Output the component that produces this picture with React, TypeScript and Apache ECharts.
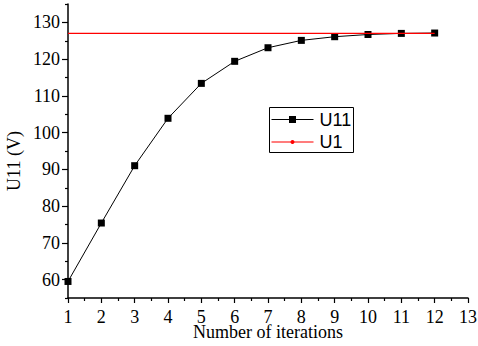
import React, { useEffect, useRef } from "react";
import * as echarts from "echarts";

const iterations = [1, 2, 3, 4, 5, 6, 7, 8, 9, 10, 11, 12];
const u11Values = [59.5, 75.4, 91.0, 103.9, 113.4, 119.4, 123.1, 125.1, 126.1, 126.7, 127.0, 127.1];
const u1Values = [127, 127, 127, 127, 127, 127, 127, 127, 127, 127, 127, 127];
const yMajorTicks = [60, 70, 80, 90, 100, 110, 120, 130];
const yMinorTicks = [55, 65, 75, 85, 95, 105, 115, 125, 135];

const serif = "'Liberation Serif', 'Times New Roman', Times, serif";
const sans = "'Liberation Sans', Arial, sans-serif";

export default function App() {
  const ref = useRef<HTMLDivElement>(null);
  useEffect(() => {
    if (!ref.current) return;
    const chart = echarts.init(ref.current, undefined, { renderer: "svg" });
    const axisLine = { lineStyle: { color: "#000", width: 1.5 } };
    const labelStyle = { fontFamily: serif, fontSize: 18, color: "#000", fontWeight: "normal" };
    chart.setOption({
      animation: false,
      backgroundColor: "#fff",
      textStyle: { fontFamily: serif },
      grid: { left: 68, right: 10, top: 4, bottom: 48, containLabel: false, outerBoundsMode: "none" },
      xAxis: {
        type: "value",
        min: 1,
        max: 13,
        interval: 1,
        name: "Number of iterations",
        nameLocation: "middle",
        nameGap: 27,
        nameMoveOverlap: false,
        nameTextStyle: { ...labelStyle, lineHeight: 13 },
        axisLine,
        axisTick: { show: true, inside: false, length: 5, lineStyle: { color: "#000", width: 1.2 } },
        minorTick: { show: true, splitNumber: 2, length: 3, lineStyle: { color: "#000", width: 1.2 } },
        axisLabel: { ...labelStyle, lineHeight: 13, margin: 12 },
        splitLine: { show: false },
        minorSplitLine: { show: false },
      },
      yAxis: [
        {
          type: "value",
          position: "left",
          min: 55,
          max: 135,
          name: "U11 (V)",
          nameLocation: "middle",
          nameGap: 45,
          nameRotate: 90,
          nameMoveOverlap: false,
          nameTextStyle: { ...labelStyle, padding: [0, 20, 0, 0] },
          axisLine: { show: true, ...axisLine },
          axisTick: { show: true, length: 6, customValues: yMajorTicks, lineStyle: { color: "#000", width: 1.2 } },
          axisLabel: { ...labelStyle, margin: 8, customValues: yMajorTicks },
          splitLine: { show: false },
        },
        {
          type: "value",
          position: "left",
          min: 55,
          max: 135,
          axisLine: { show: false },
          axisTick: { show: true, length: 3, customValues: yMinorTicks, lineStyle: { color: "#000", width: 1.2 } },
          axisLabel: { show: false },
          splitLine: { show: false },
        },
      ],
      series: [
        {
          name: "U11",
          type: "line",
          yAxisIndex: 0,
          data: iterations.map((x, i) => [x, u11Values[i]]),
          symbol: "rect",
          symbolSize: 7,
          itemStyle: { color: "#000" },
          lineStyle: { color: "#000", width: 1 },
          z: 2,
        },
        {
          name: "U1",
          type: "line",
          yAxisIndex: 0,
          data: iterations.map((x, i) => [x, u1Values[i]]),
          symbol: "none",
          itemStyle: { color: "#ff0000" },
          lineStyle: { color: "#ff0000", width: 1.3 },
          z: 3,
        },
      ],
      graphic: [
        {
          type: "group",
          left: 269,
          top: 107,
          children: [
            { type: "rect", shape: { x: 0, y: 0, width: 84, height: 45 }, style: { fill: "#fff", stroke: "#000", lineWidth: 1 } },
            { type: "line", shape: { x1: 2, y1: 12, x2: 44, y2: 12 }, style: { stroke: "#000", lineWidth: 1 } },
            { type: "rect", shape: { x: 19.5, y: 8.5, width: 7, height: 7 }, style: { fill: "#000" } },
            { type: "text", x: 50, y: 12, style: { text: "U11", fontFamily: sans, fontSize: 18, fill: "#000", verticalAlign: "middle" } },
            { type: "line", shape: { x1: 2, y1: 34.5, x2: 44, y2: 34.5 }, style: { stroke: "#ff5050", lineWidth: 1.5 } },
            { type: "circle", shape: { cx: 23, cy: 34.5, r: 2 }, style: { fill: "#ff0000" } },
            { type: "text", x: 50, y: 34, style: { text: "U1", fontFamily: sans, fontSize: 18, fill: "#000", verticalAlign: "middle" } },
          ],
        },
      ],
    });
    return () => chart.dispose();
  }, []);
  return <div ref={ref} style={{ width: 478, height: 346, position: "absolute", left: 0, top: 0 }} />;
}
